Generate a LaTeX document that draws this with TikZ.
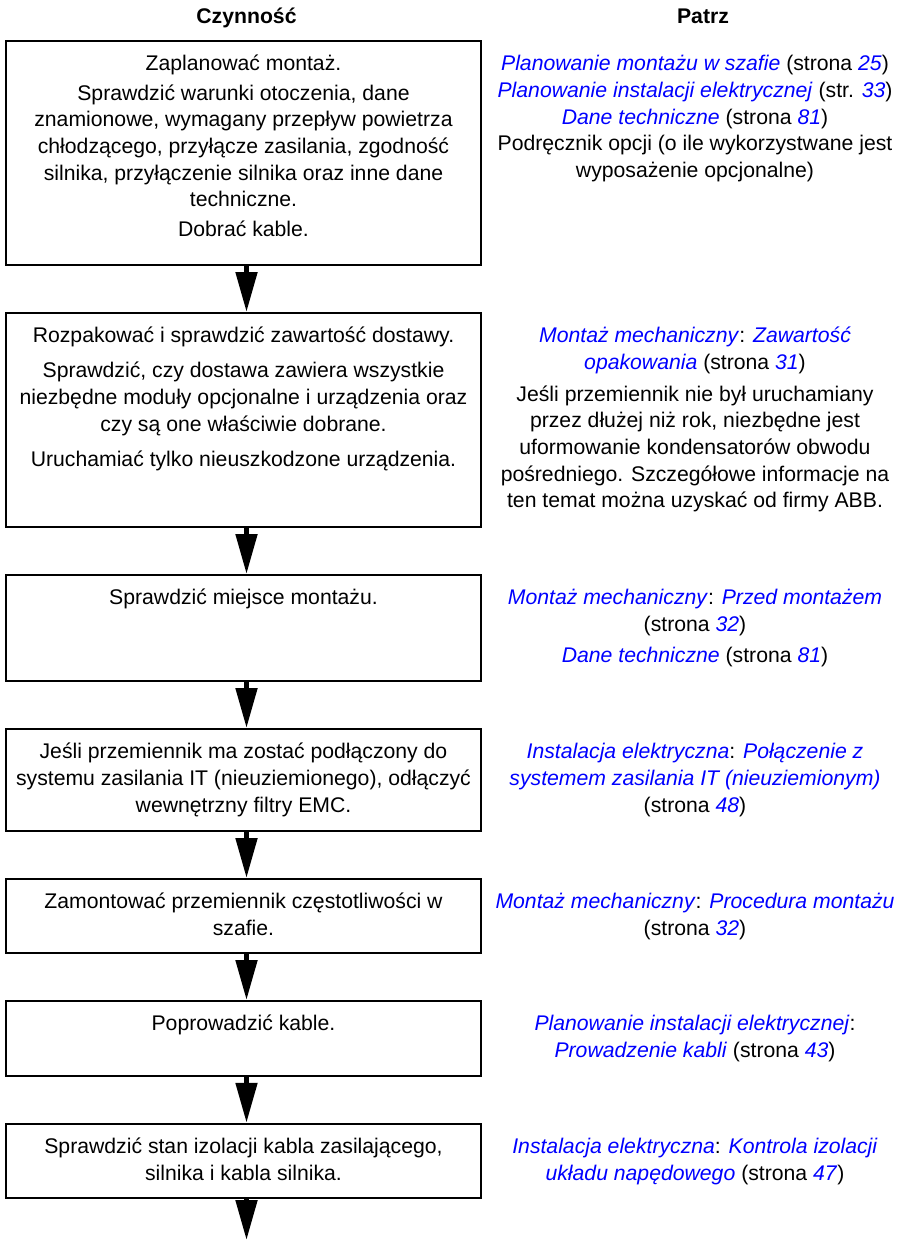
\documentclass[tikz,border=0pt]{standalone}
\usepackage{fontspec}
\setmainfont{Liberation Sans}
\usetikzlibrary{arrows.meta}
\definecolor{lnk}{RGB}{0,0,255}
\newcommand{\lk}[1]{\textcolor{lnk}{\textit{#1}}}
\begin{document}
\begin{tikzpicture}[x=1pt,y=-1pt,
  box/.style={draw, line width=2pt, minimum width=475pt, inner sep=0pt},
  txt/.style={font=\fontsize{21.2}{26.7}\selectfont, align=center, anchor=north, inner sep=0pt},
  hdr/.style={font=\fontsize{21.2}{26.7}\selectfont\bfseries, anchor=base, inner sep=0pt},
  arr/.style={line width=5pt, -{Triangle[length=40pt,width=21pt]}}]
\useasboundingbox (0,0) rectangle (905,1240);
% headers
\node[hdr] (h1) at (246.5,23.5) {Czynność};
\node[hdr] (h2) at (703,23.5) {Patrz};
% boxes
\node[box, minimum height=224pt] (b1) at (243.5,153) {};
\node[box, minimum height=214pt] (b2) at (243.5,420) {};
\node[box, minimum height=106pt] (b3) at (243.5,628) {};
\node[box, minimum height=102pt] (b4) at (243.5,780) {};
\node[box, minimum height=74pt] (b5) at (243.5,916) {};
\node[box, minimum height=75pt] (b6) at (243.5,1038.5) {};
\node[box, minimum height=74.5pt] (b7) at (243.5,1161) {};
\coordinate (end) at (246.5,1240);
% left texts
\node[txt] (l1) at (243.5,51.8) {\strut Zaplanować montaż.\\[2.7pt]
 Sprawdzić warunki otoczenia, dane\\ znamionowe, wymagany przepływ powietrza\\
 chłodzącego, przyłącze zasilania, zgodność\\ silnika, przyłączenie silnika oraz inne dane\\
 techniczne.\\[2.5pt] Dobrać kable.};
\node[txt] (l2) at (243.5,323.8) {\strut Rozpakować i sprawdzić zawartość dostawy.\\[8.3pt]
 Sprawdzić, czy dostawa zawiera wszystkie\\ niezbędne moduły opcjonalne i urządzenia oraz\\
 czy są one właściwie dobrane.\\[8.3pt] Uruchamiać tylko nieuszkodzone urządzenia.};
\node[txt] (l3) at (243.5,585.8) {\strut Sprawdzić miejsce montażu.};
\node[txt] (l4) at (243.5,739.8) {\strut Jeśli przemiennik ma zostać podłączony do\\
 systemu zasilania IT (nieuziemionego), odłączyć\\ wewnętrzny filtry EMC.};
\node[txt] (l5) at (243.5,889.8) {\strut Zamontować przemiennik częstotliwości w\\ szafie.};
\node[txt] (l6) at (243.5,1011.8) {\strut Poprowadzić kable.};
\node[txt] (l7) at (243.5,1134.8) {\strut Sprawdzić stan izolacji kabla zasilającego,\\ silnika i kabla silnika.};
% right texts
\node[txt] (r1) at (695,51.8) {\strut \lk{Planowanie montażu w szafie} (strona \lk{25})\\
 \lk{Planowanie instalacji elektrycznej} (str. \lk{33})\\
 \lk{Dane techniczne} (strona \lk{81})\\
 Podręcznik opcji (o ile wykorzystwane jest\\ wyposażenie opcjonalne)};
\node[txt] (r2) at (695,323.8) {\strut \lk{Montaż mechaniczny}: \lk{Zawartość}\\
 \lk{opakowania} (strona \lk{31})\\[5pt]
 Jeśli przemiennik nie był uruchamiany\\ przez dłużej niż rok, niezbędne jest\\
 uformowanie kondensatorów obwodu\\ pośredniego. Szczegółowe informacje na\\
 ten temat można uzyskać od firmy ABB.};
\node[txt] (r3) at (695,585.8) {\strut \lk{Montaż mechaniczny}: \lk{Przed montażem}\\
 (strona \lk{32})\\[4pt] \lk{Dane techniczne} (strona \lk{81})};
\node[txt] (r4) at (695,739.8) {\strut \lk{Instalacja elektryczna}: \lk{Połączenie z}\\
 \lk{systemem zasilania IT (nieuziemionym)}\\ (strona \lk{48})};
\node[txt] (r5) at (695,889.8) {\strut \lk{Montaż mechaniczny}: \lk{Procedura montażu}\\ (strona \lk{32})};
\node[txt] (r6) at (695,1011.8) {\strut \lk{Planowanie instalacji elektrycznej}:\\ \lk{Prowadzenie kabli} (strona \lk{43})};
\node[txt] (r7) at (695,1134.8) {\strut \lk{Instalacja elektryczna}: \lk{Kontrola izolacji}\\ \lk{układu napędowego} (strona \lk{47})};
% arrows
\draw[arr] ([xshift=3pt]b1.south) -- ([xshift=3pt]b2.north);
\draw[arr] ([xshift=3pt]b2.south) -- ([xshift=3pt]b3.north);
\draw[arr] ([xshift=3pt]b3.south) -- ([xshift=3pt]b4.north);
\draw[arr] ([xshift=3pt]b4.south) -- ([xshift=3pt]b5.north);
\draw[arr] ([xshift=3pt]b5.south) -- ([xshift=3pt]b6.north);
\draw[arr] ([xshift=3pt]b6.south) -- ([xshift=3pt]b7.north);
\draw[arr] ([xshift=3pt]b7.south) -- (end);
\end{tikzpicture}
\end{document}
